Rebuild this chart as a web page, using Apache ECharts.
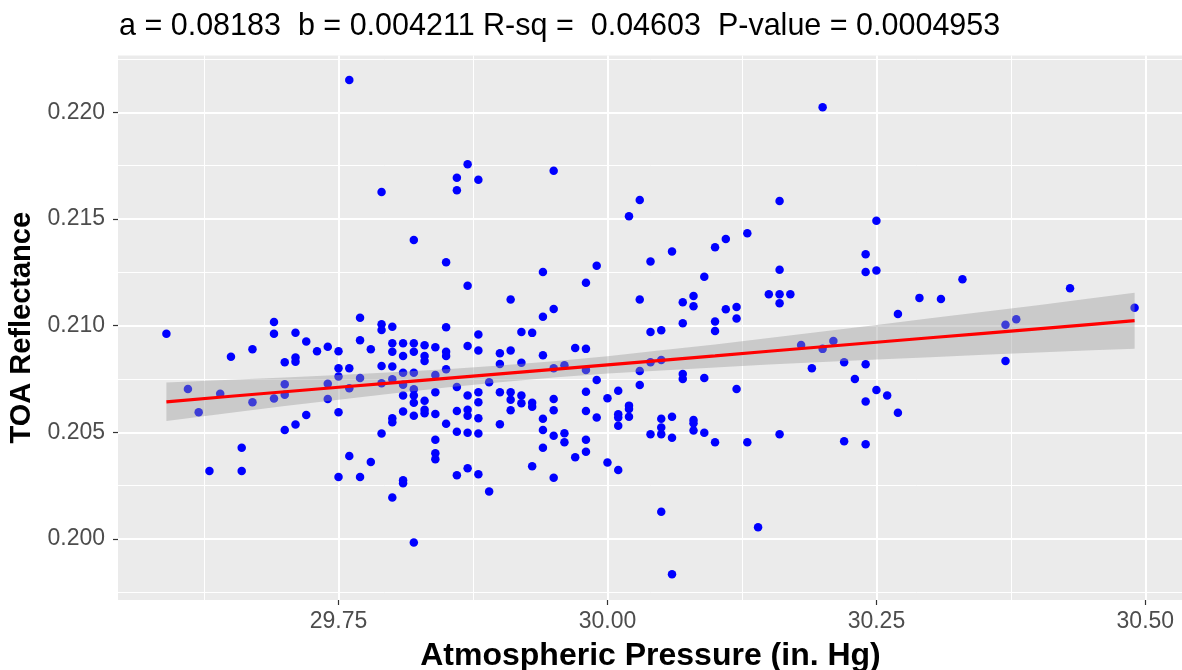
<!DOCTYPE html>
<html>
<head>
<meta charset="utf-8">
<script src="https://cdn.jsdelivr.net/npm/echarts@6/dist/echarts.min.js"></script>
<style>
html,body{margin:0;padding:0;background:#fff;}
#chart{width:1182px;height:670px;}
</style>
</head>
<body>
<div id="chart"></div>
<script>
// ---- data ----
const pressure = [
29.76,29.79,29.87,29.86,29.88,29.86,29.95,30.03,30.02,30.20,
30.16,30.25,29.59,29.69,29.69,29.71,29.72,29.65,29.67,29.70,
29.71,29.71,29.73,29.74,29.75,29.77,29.77,29.78,29.79,29.79,
29.79,29.76,29.75,29.75,29.77,29.79,29.76,29.74,29.74,29.70,
29.70,29.69,29.67,29.64,29.61,29.82,29.85,29.87,29.94,29.99,
29.98,29.91,29.95,29.94,30.03,29.80,29.85,29.88,29.92,29.93,
29.80,29.80,29.81,29.81,29.82,29.82,29.83,29.83,29.83,29.84,
29.85,29.85,29.85,29.87,29.88,29.90,29.91,29.90,29.92,29.94,
29.97,29.98,29.95,29.96,29.98,29.99,30.03,30.03,29.80,29.81,
29.82,29.84,29.80,29.81,29.82,29.81,29.82,29.82,29.83,29.84,
29.86,29.87,29.88,29.88,29.89,29.90,29.91,29.91,29.92,29.92,
29.93,29.93,29.95,29.98,30.00,30.01,30.02,29.80,29.80,29.81,
29.82,29.83,29.83,29.84,29.85,29.86,29.86,29.87,29.87,29.87,
29.88,29.88,29.90,29.91,29.94,29.94,29.94,29.95,29.95,29.96,
29.96,29.97,29.98,29.98,29.98,29.99,30.00,30.01,30.01,30.01,
30.01,30.02,30.02,29.81,29.81,29.80,29.82,29.84,29.84,29.84,
29.86,29.87,29.88,29.89,29.93,29.95,30.04,30.05,30.05,30.05,
30.06,30.06,30.08,30.08,30.08,30.09,30.10,30.13,30.16,30.22,
30.24,30.27,30.05,30.14,30.06,30.04,30.06,30.10,30.11,30.13,
30.09,30.16,30.24,30.24,30.25,30.07,30.08,30.08,30.15,30.16,
30.17,30.16,30.11,30.12,30.12,30.10,30.10,30.07,30.04,30.05,
30.27,30.18,30.20,30.21,30.04,30.05,30.07,30.07,30.09,30.12,
30.19,30.22,30.23,30.24,30.25,30.26,30.24,30.29,30.31,30.33,
30.43,30.49,30.37,30.38,30.37,29.62,29.75,29.72,29.71,29.70,
29.66,29.63,29.66,29.76,29.75,29.77,29.78,29.79
];
const reflectance = [
0.22151,0.21626,0.21756,0.21693,0.21684,0.21634,0.21726,0.21589,0.21513,0.22023,
0.21584,0.21492,0.20962,0.21017,0.20962,0.20967,0.20925,0.20854,0.20889,0.20828,
0.20850,0.20831,0.20880,0.20901,0.20880,0.21037,0.20931,0.20889,0.21006,0.20980,
0.20811,0.20800,0.20800,0.20761,0.20755,0.20730,0.20706,0.20728,0.20656,0.20725,
0.20676,0.20658,0.20641,0.20681,0.20703,0.21401,0.21297,0.21187,0.21251,0.21281,
0.21201,0.21122,0.21078,0.21042,0.21122,0.20995,0.20992,0.20958,0.20970,0.20966,
0.20917,0.20878,0.20917,0.20858,0.20917,0.20878,0.20908,0.20858,0.20834,0.20899,
0.20878,0.20858,0.20795,0.20905,0.20883,0.20870,0.20883,0.20820,0.20826,0.20861,
0.20895,0.20891,0.20800,0.20814,0.20792,0.20745,0.20787,0.20722,0.20808,0.20779,
0.20779,0.20769,0.20749,0.20723,0.20702,0.20672,0.20672,0.20639,0.20648,0.20688,
0.20712,0.20672,0.20688,0.20641,0.20735,0.20688,0.20688,0.20652,0.20672,0.20636,
0.20639,0.20620,0.20656,0.20690,0.20660,0.20695,0.20625,0.20566,0.20547,0.20597,
0.20577,0.20606,0.20589,0.20586,0.20540,0.20600,0.20503,0.20606,0.20578,0.20498,
0.20566,0.20494,0.20538,0.20603,0.20563,0.20511,0.20428,0.20603,0.20484,0.20495,
0.20453,0.20383,0.20600,0.20465,0.20409,0.20569,0.20358,0.20585,0.20569,0.20531,
0.20323,0.20573,0.20609,0.20275,0.20261,0.20194,0.19983,0.20465,0.20402,0.20374,
0.20299,0.20331,0.20303,0.20222,0.20341,0.20287,0.20491,0.20563,0.20522,0.20491,
0.20573,0.20475,0.20558,0.20542,0.20508,0.20498,0.20453,0.20453,0.20491,0.20458,
0.20444,0.20592,0.20128,0.20055,0.19835,0.21300,0.21347,0.21367,0.21406,0.21433,
0.21229,0.21262,0.21334,0.21251,0.21258,0.21109,0.21139,0.21091,0.21147,0.21147,
0.21147,0.21105,0.21077,0.21087,0.21033,0.21019,0.20975,0.21011,0.20970,0.20978,
0.21055,0.20909,0.20891,0.20928,0.20828,0.20839,0.20773,0.20750,0.20755,0.20703,
0.20800,0.20828,0.20750,0.20819,0.20698,0.20672,0.20644,0.21130,0.21125,0.21217,
0.21175,0.21084,0.21004,0.21030,0.20834,0.20594,0.20594,0.20581,0.20536,0.20511,
0.20428,0.20319,0.20319,0.20389,0.20291,0.20291,0.20361,0.20494
];
// fitted line and its confidence band
const fitPressure = [29.59,29.65,29.70,29.75,29.80,29.85,29.90,29.95,30.00,30.05,30.10,30.15,30.20,30.25,30.30,30.35,30.40,30.45,30.49];
const fitValue    = [0.20643,0.20669,0.20690,0.20711,0.20732,0.20753,0.20774,0.20795,0.20816,0.20837,0.20858,0.20880,0.20901,0.20922,0.20943,0.20964,0.20985,0.21006,0.21023];
const ciLower     = [0.20553,0.20592,0.20623,0.20653,0.20682,0.20710,0.20735,0.20757,0.20775,0.20790,0.20804,0.20818,0.20830,0.20841,0.20852,0.20863,0.20874,0.20884,0.20892];
const ciUpper     = [0.20733,0.20746,0.20757,0.20769,0.20782,0.20796,0.20813,0.20833,0.20857,0.20884,0.20912,0.20942,0.20972,0.21003,0.21034,0.21065,0.21096,0.21128,0.21154];
// axis ticks
const xTicks = [29.75, 30.00, 30.25, 30.50];
const xMinorTicks = [29.625, 29.875, 30.125, 30.375];
const yTicks = [0.200, 0.205, 0.210, 0.215, 0.220];
const yMinorTicks = [0.1975, 0.2025, 0.2075, 0.2125, 0.2175, 0.2225];
const titleText = 'a = 0.08183  b = 0.004211 R-sq =  0.04603  P-value = 0.0004953';
const xName = 'Atmospheric Pressure (in. Hg)';
const yName = 'TOA Reflectance';

// ---- chart ----
const FONT = 'Liberation Sans, Arial, sans-serif';
const points = pressure.map((p, i) => [p, reflectance[i]]);
const bandData = fitPressure.map((p, i) => [p, ciLower[i], ciUpper[i]]);
const fitData = fitPressure.map((p, i) => [p, fitValue[i]]);

const chart = echarts.init(document.getElementById('chart'), null, {renderer: 'canvas'});
const xRange = {min: 29.545, max: 30.535};
const yRange = {min: 0.19714, max: 0.22266};

function renderBand(params, api) {
  if (params.dataIndex !== 0) return null;
  const upper = [], lower = [];
  for (let i = 0; i < bandData.length; i++) {
    upper.push(api.coord([bandData[i][0], bandData[i][2]]));
    lower.push(api.coord([bandData[i][0], bandData[i][1]]));
  }
  return {
    type: 'polygon',
    shape: {points: upper.concat(lower.reverse())},
    style: {fill: 'rgba(153,153,153,0.4)'},
    silent: true
  };
}

chart.setOption({
  animation: false,
  backgroundColor: '#ffffff',
  textStyle: {fontFamily: FONT},
  title: {
    text: titleText, left: 119, top: 11, padding: 0,
    textStyle: {fontFamily: FONT, fontSize: 30.5, fontWeight: 'normal', color: '#000'}
  },
  grid: {left: 118, top: 55.5, width: 1065, height: 544.5, show: true,
         backgroundColor: '#EBEBEB', borderWidth: 0, containLabel: false,
         outerBoundsMode: 'none'},
  xAxis: [{
    type: 'value', min: xRange.min, max: xRange.max,
    axisLine: {show: false},
    axisTick: {show: true, length: 5, customValues: xTicks, lineStyle: {color: '#333333', width: 1.2}},
    axisLabel: {customValues: xTicks, formatter: v => v.toFixed(2), color: '#4D4D4D', fontSize: 23, margin: 10, fontFamily: FONT},
    splitLine: {show: true, lineStyle: {color: '#FFFFFF', width: 2}},
    name: xName, nameLocation: 'middle', nameGap: 40,
    nameTextStyle: {fontFamily: FONT, fontSize: 32, fontWeight: 'bold', color: '#000'}
  }, {
    type: 'value', min: xRange.min, max: xRange.max, position: 'bottom',
    axisLine: {show: false},
    axisTick: {show: false, customValues: xMinorTicks},
    axisLabel: {show: false, customValues: xMinorTicks},
    splitLine: {show: true, lineStyle: {color: '#FFFFFF', width: 1}}
  }],
  yAxis: [{
    type: 'value', min: yRange.min, max: yRange.max,
    axisLine: {show: false},
    axisTick: {show: true, length: 5, customValues: yTicks, lineStyle: {color: '#333333', width: 1.2}},
    axisLabel: {customValues: yTicks, formatter: v => v.toFixed(3), color: '#4D4D4D', fontSize: 23, margin: 13, fontFamily: FONT},
    splitLine: {show: true, lineStyle: {color: '#FFFFFF', width: 2}},
    name: yName, nameLocation: 'middle', nameGap: 76,
    nameTextStyle: {fontFamily: FONT, fontSize: 29, fontWeight: 'bold', color: '#000'}
  }, {
    type: 'value', min: yRange.min, max: yRange.max, position: 'left',
    axisLine: {show: false},
    axisTick: {show: false, customValues: yMinorTicks},
    axisLabel: {show: false, customValues: yMinorTicks},
    splitLine: {show: true, lineStyle: {color: '#FFFFFF', width: 1}}
  }],
  series: [{
    type: 'scatter', xAxisIndex: 0, yAxisIndex: 0, data: points,
    symbol: 'circle', symbolSize: 8.5, z: 2,
    itemStyle: {color: '#0000FF', opacity: 1},
    emphasis: {disabled: true}
  }, {
    type: 'custom', xAxisIndex: 0, yAxisIndex: 0, data: bandData,
    encode: {x: 0, y: [1, 2]}, renderItem: renderBand, z: 3, silent: true, clip: true
  }, {
    type: 'line', xAxisIndex: 0, yAxisIndex: 0, data: fitData,
    symbol: 'none', lineStyle: {color: '#FF0000', width: 3.2}, z: 4, silent: true
  }]
});
</script>
</body>
</html>
